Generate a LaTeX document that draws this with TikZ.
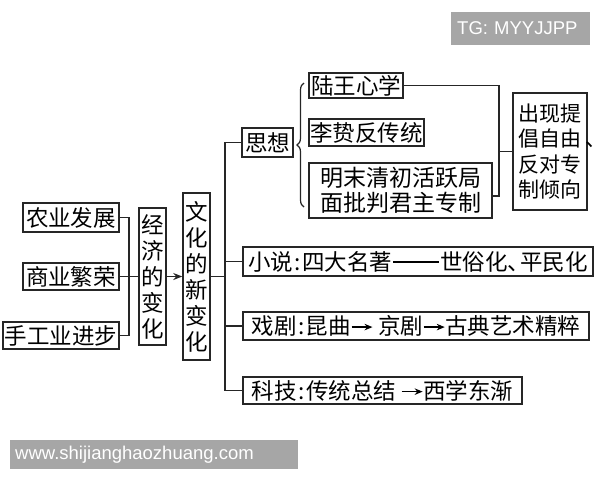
\documentclass[tikz,border=0pt]{standalone}
\usepackage{fontspec}
\setmainfont{Liberation Sans}
\newfontfamily\cjk{Noto Sans CJK SC}
\usetikzlibrary{arrows.meta,decorations.pathreplacing}
\newcommand{\myarr}{\tikz[baseline=-7.5pt,x=1pt,y=1pt]\draw[line width=1.2pt,-{Stealth[length=8pt,width=6.5pt]}] (0,0) -- (21,0);}
\newcommand{\mycolon}{\hspace{1.5pt}:\hspace{1.5pt}}
\newcommand{\mydash}{\hspace{1pt}\rule[7.5pt]{46pt}{1.1pt}\hspace{1pt}}
\begin{document}
\begin{tikzpicture}[x=1pt,y=-1pt,
  box/.style={draw=black!85, line width=1.5pt, inner sep=0pt, align=center, font=\cjk\fontsize{22.5}{26}\selectfont},
  conn/.style={draw=black!85, line width=1.5pt},
  wm/.style={fill=black!35, text=white, font=\fontsize{18.5}{20}\selectfont, inner ysep=0pt, anchor=west, align=left}]
\useasboundingbox (0,0) rectangle (600,480);

% left column
\node[box, minimum width=96pt, minimum height=29pt] (nongye) at (71,217.5) {农业发展};
\node[box, minimum width=96pt, minimum height=27pt] (shangye) at (71,276.5) {商业繁荣};
\node[box, minimum width=116pt, minimum height=27pt] (shougong) at (61,335.5) {手工业进步};
\node[box, minimum width=27pt, minimum height=137pt] (jingji) at (152.5,276.5) {经\\济\\的\\变\\化};
\node[box, minimum width=27pt, minimum height=167pt] (wenhua) at (196.5,276.5) {文\\化\\的\\新\\变\\化};

% right branches
\node[box, minimum width=51pt, minimum height=29pt] (sixiang) at (267.5,142.5) {思想};
\node[box, minimum width=94pt, minimum height=25pt] (luwang) at (356,85.5) {陆王心学};
\node[box, minimum width=115pt, minimum height=27pt] (lizhi) at (366.5,132.5) {李贽反传统};
\node[box, minimum width=183pt, minimum height=55pt, font=\cjk\fontsize{23}{25}\selectfont] (mingmo) at (400.5,190.5) {明末清初活跃局\\面批判君主专制};
\node[box, minimum width=74pt, minimum height=117pt, align=left, font=\cjk\fontsize{21}{25.5}\selectfont] (chuxian) at (550,151.5) {出现提\\倡自由\rlap{\hspace{4pt}、}\\反对专\\制倾向};

\node[box, minimum width=350pt, minimum height=29pt] (xiaoshuo) at (418,261.5) {小说\mycolon 四大名著\mydash 世俗化\makebox[0.55em][l]{、}平民化};
\node[box, minimum width=346pt, minimum height=28pt] (xiju) at (416,326) {戏剧\mycolon 昆曲\myarr\ 京剧\myarr 古典艺术精粹};
\node[box, minimum width=279pt, minimum height=27pt] (keji) at (382.5,390.5) {科技\mycolon 传统总结\ \myarr 西学东渐};

% connectors
\coordinate (ej) at (129,276.5);
\draw[conn] (nongye.east) -| (ej) |- (shougong.east);
\draw[conn] (shangye.east) -- (jingji.west);
\draw[conn, -{Stealth[length=9pt,width=7pt]}] (jingji.east) -- (wenhua.west);

\coordinate (tw) at (225,276.5);
\draw[conn] (sixiang.west) -| (tw) |- (keji.west);
\draw[conn] (wenhua.east) -- (tw);
\draw[conn] (xiaoshuo.west) -- (xiaoshuo.west -| tw);
\draw[conn] (xiju.west) -- (xiju.west -| tw);

\draw[draw=black!85, line width=1.2pt, decorate, decoration={brace, amplitude=7pt}] (304,207) -- (304,83);

\coordinate (rj) at (499,151.5);
\draw[conn] (luwang.east) -| (rj) |- ([yshift=-5.5pt]mingmo.east);
\draw[conn] (rj) -- (chuxian.west);

% watermarks
\node[wm, minimum height=33pt, inner xsep=6pt, text width=127pt] (tg) at (451,28.5) {TG: MYYJJPP};
\node[wm, minimum height=29pt, inner xsep=5pt, text width=278pt] (www) at (10,454.5) {www.shijianghaozhuang.com};
\end{tikzpicture}
\end{document}
